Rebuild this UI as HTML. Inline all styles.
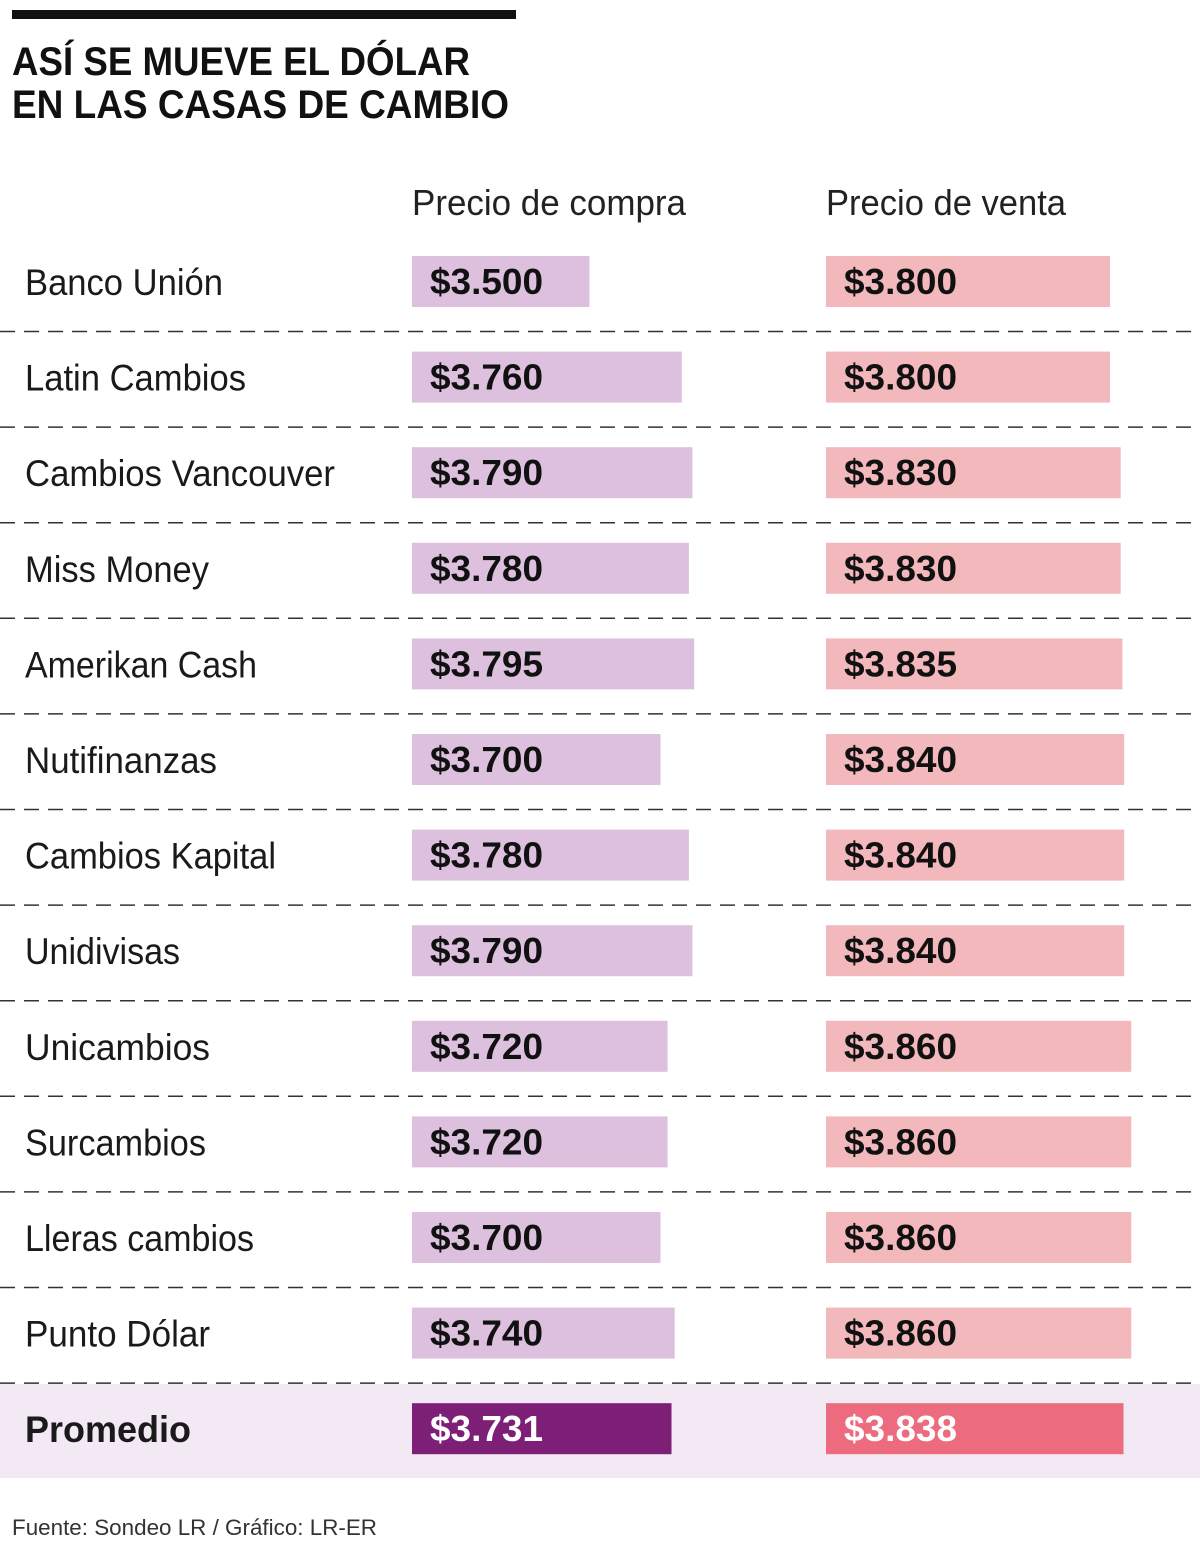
<!DOCTYPE html>
<html><head><meta charset="utf-8"><style>
html,body{margin:0;padding:0;background:#fff;width:1200px;height:1552px;overflow:hidden}
svg{display:block}
</style></head><body>
<svg id="chart" width="1200" height="1552" viewBox="0 0 1200 1552" xmlns="http://www.w3.org/2000/svg" font-family="'Liberation Sans', sans-serif">
<rect x="12" y="10" width="504" height="9" fill="#111"/>
<text x="12" y="75" font-size="40" font-weight="bold" fill="#111" textLength="458" lengthAdjust="spacingAndGlyphs">ASÍ SE MUEVE EL DÓLAR</text>
<text x="12" y="118" font-size="40" font-weight="bold" fill="#111" textLength="497" lengthAdjust="spacingAndGlyphs">EN LAS CASAS DE CAMBIO</text>
<text x="412" y="215" font-size="36" fill="#222" textLength="274" lengthAdjust="spacingAndGlyphs">Precio de compra</text>
<text x="826" y="215" font-size="36" fill="#222" textLength="240" lengthAdjust="spacingAndGlyphs">Precio de venta</text>
<rect x="0" y="1384" width="1200" height="94" fill="#f3e9f4"/>
<g id="rows"></g>
<text x="12" y="1535" font-size="22" fill="#333" textLength="365" lengthAdjust="spacingAndGlyphs">Fuente: Sondeo LR / Gráfico: LR-ER</text>
</svg>
<script>
const categories=["Banco Unión","Latin Cambios","Cambios Vancouver","Miss Money","Amerikan Cash","Nutifinanzas","Cambios Kapital","Unidivisas","Unicambios","Surcambios","Lleras cambios","Punto Dólar","Promedio"];
const compra=[3500,3760,3790,3780,3795,3700,3780,3790,3720,3720,3700,3740,3731];
const venta=[3800,3800,3830,3830,3835,3840,3840,3840,3860,3860,3860,3860,3838];
const labelWidths=[198,221,310,184,232,192,251,155,185,181,229,185,166];

const NS="http://www.w3.org/2000/svg";
const g=document.getElementById('rows');
const x=v=>(v-3000)*0.355;
const rowY=i=>256+i*95.6;
function fmt(v){const s=String(v);return "$"+s[0]+"."+s.slice(1);}
function mk(tag,attrs){const e=document.createElementNS(NS,tag);for(const k in attrs)e.setAttribute(k,attrs[k]);g.appendChild(e);return e;}
categories.forEach((c,i)=>{
  const avg=i===categories.length-1;
  const y=rowY(i);
  const t=mk('text',{x:25,y:y+39,'font-size':37,fill:'#1a1a1a','font-weight':avg?'bold':'normal',textLength:labelWidths[i],lengthAdjust:'spacingAndGlyphs'});
  t.textContent=c;
  
  
  const b1=mk('rect',{x:412,y:y,width:x(compra[i]),height:51,fill:avg?'#7d1f77':'#dcc0de'});
  
  
  const v1=mk('text',{x:430,y:y+38,'font-size':36,'font-weight':'bold',fill:avg?'#fff':'#111',textLength:113,lengthAdjust:'spacingAndGlyphs'});
  v1.textContent=fmt(compra[i]);
  
  
  const b2=mk('rect',{x:826,y:y,width:x(venta[i]),height:51,fill:avg?'#ec6b7e':'#f2b8bc'});
  
  
  const v2=mk('text',{x:844,y:y+38,'font-size':36,'font-weight':'bold',fill:avg?'#fff':'#111',textLength:113,lengthAdjust:'spacingAndGlyphs'});
  v2.textContent=fmt(venta[i]);
  
  
  if(!avg){
    const ly=y+75.5;
    const l=mk('line',{x1:0,x2:1200,y1:ly,y2:ly,stroke:'#333','stroke-width':1.5,'stroke-dasharray':'15 9'});
    
    
  }
});
</script>
</body></html>
